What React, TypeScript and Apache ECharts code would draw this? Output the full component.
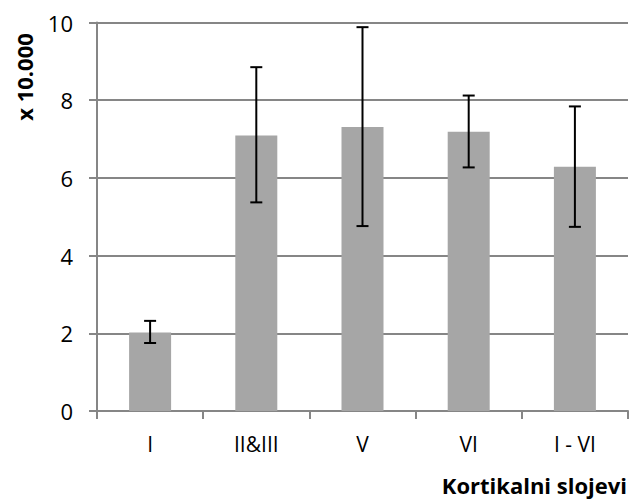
import React, { useEffect, useRef } from "react";
import * as echarts from "echarts";

const categories = ["I", "II&III", "V", "VI", "I - VI"];
const values = [2.02, 7.09, 7.31, 7.19, 6.29];
const errLow = [1.75, 5.37, 4.76, 6.27, 4.74];
const errHigh = [2.32, 8.85, 9.88, 8.12, 7.84];
const yTicks = [0, 2, 4, 6, 8, 10];

const FONT = "'Open Sans', 'Noto Sans', sans-serif";

export default function App() {
  const ref = useRef<HTMLDivElement>(null);
  useEffect(() => {
    const chart = echarts.init(ref.current!, null, { renderer: "svg" });
    const errData = categories.map((c, i) => [i, errLow[i], errHigh[i]]);
    chart.setOption({
      animation: false,
      backgroundColor: "#ffffff",
      grid: { left: 97, right: 5, top: 22.5, bottom: 88 },
      xAxis: {
        type: "category",
        data: categories,
        axisLine: { lineStyle: { color: "#868686", width: 2 } },
        axisTick: { show: true, length: 8, lineStyle: { color: "#868686", width: 2 } },
        axisLabel: { color: "#000", fontFamily: FONT, fontSize: 21, margin: 22 },
      },
      yAxis: {
        type: "value",
        min: yTicks[0],
        max: yTicks[yTicks.length - 1],
        interval: 2,
        axisLine: { show: true, lineStyle: { color: "#868686", width: 2 } },
        axisTick: { show: true, length: 8, lineStyle: { color: "#868686", width: 2 } },
        splitLine: { lineStyle: { color: "#868686", width: 2 } },
        axisLabel: { color: "#000", fontFamily: FONT, fontSize: 22, margin: 24 },
      },
      series: [
        {
          type: "bar",
          data: values,
          barWidth: 42,
          itemStyle: { color: "#a6a6a6" },
        },
        {
          type: "custom",
          data: errData,
          z: 10,
          renderItem: (params: any, api: any) => {
            const x = api.value(0);
            const lo = api.coord([x, api.value(1)]);
            const hi = api.coord([x, api.value(2)]);
            const hw = 6;
            const style = { stroke: "#000", lineWidth: 2 };
            return {
              type: "group",
              children: [
                { type: "line", shape: { x1: hi[0], y1: hi[1], x2: lo[0], y2: lo[1] }, style },
                { type: "line", shape: { x1: hi[0] - hw, y1: hi[1], x2: hi[0] + hw, y2: hi[1] }, style },
                { type: "line", shape: { x1: lo[0] - hw, y1: lo[1], x2: lo[0] + hw, y2: lo[1] }, style },
              ],
            };
          },
        },
      ],
      graphic: [
        {
          type: "text",
          x: 24,
          y: 77,
          rotation: Math.PI / 2,
          style: {
            text: "x 10.000",
            fontFamily: FONT,
            fontSize: 22,
            fontWeight: "bold",
            fill: "#000",
            align: "center",
            verticalAlign: "middle",
          },
        },
        {
          type: "text",
          x: 627,
          y: 485,
          style: {
            text: "Kortikalni slojevi",
            fontFamily: FONT,
            fontSize: 22,
            fontWeight: "bold",
            fill: "#000",
            align: "right",
            verticalAlign: "middle",
          },
        },
      ],
    });
    return () => chart.dispose();
  }, []);
  return <div ref={ref} style={{ width: 633, height: 499, position: "absolute", left: 0, top: 0 }} />;
}
